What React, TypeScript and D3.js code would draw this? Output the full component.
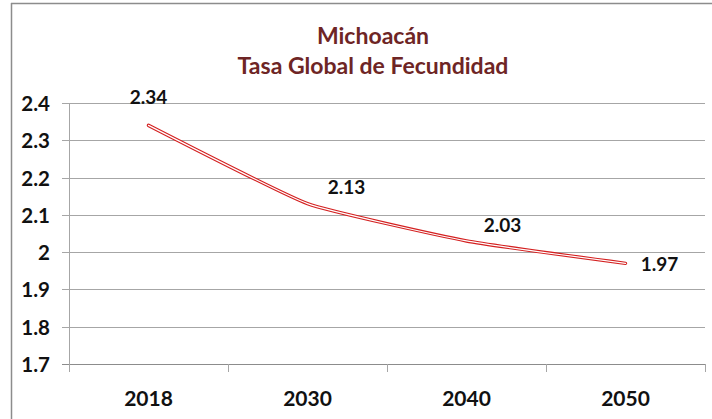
import React from "react";
import * as d3 from "d3";

const years = ["2018", "2030", "2040", "2050"];
const tgf = [2.34, 2.13, 2.03, 1.97];
const yTicks = [1.7, 1.8, 1.9, 2.0, 2.1, 2.2, 2.3, 2.4];
const titleLines = ["Michoacán", "Tasa Global de Fecundidad"];

const W = 712;
const H = 419;
const FONT = "Lato, 'Open Sans', sans-serif";

export default function App() {
  const left = 69, right = 705, top = 103, bottom = 364;
  const x = d3.scaleBand<string>().domain(years).range([left, right]).padding(0);
  const y = d3.scaleLinear().domain([1.7, 2.4]).range([bottom, top]);
  const cx = (i: number) => (x(years[i]) as number) + x.bandwidth() / 2;
  const line = d3
    .line<number>()
    .x((_, i) => cx(i))
    .y((d) => y(d))
    .curve(d3.curveCardinal.tension(0.6));
  const path = line(tgf) as string;

  const labelOffsets = [
    [0, -29],
    [39, -17],
    [36, -16],
    [34, 0],
  ];

  const boundaries = years.map((yr) => x(yr) as number).concat([right]);

  return (
    <svg
      width={W}
      height={H}
      style={{ position: "absolute", left: 0, top: 0, background: "#fff" }}
      fontFamily={FONT}
    >
      <rect x={0} y={0} width={W} height={H} fill="#fff" />
      <line x1={11} y1={3.5} x2={W} y2={3.5} stroke="#8c8c8c" strokeWidth={1.5} />
      <line x1={11.5} y1={3} x2={11.5} y2={H} stroke="#8c8c8c" strokeWidth={1.5} />

      {titleLines.map((t, i) => (
        <text
          key={t}
          x={373}
          y={35 + i * 30}
          textAnchor="middle"
          dominantBaseline="central"
          fontSize={23}
          fontWeight="bold"
          fill="#6e2525"
        >
          {t}
        </text>
      ))}

      {yTicks.map((t) => (
        <g key={t}>
          <line
            x1={left - 7}
            x2={right}
            y1={Math.round(y(t)) + 0.5}
            y2={Math.round(y(t)) + 0.5}
            stroke={t === 1.7 ? "#8c8c8c" : "#a6a6a6"}
            strokeWidth={1}
          />
          <text
            x={50}
            y={y(t)}
            textAnchor="end"
            dominantBaseline="central"
            fontSize={20.5}
            fontWeight="bold"
            fill="#111"
          >
            {d3.format("")(+t.toFixed(1))}
          </text>
        </g>
      ))}

      <line x1={left + 0.5} x2={left + 0.5} y1={top} y2={bottom + 8} stroke="#a6a6a6" />
      {boundaries.map((b, i) => (
        <line
          key={i}
          x1={Math.round(b) + 0.5}
          x2={Math.round(b) + 0.5}
          y1={bottom}
          y2={bottom + 8}
          stroke="#a6a6a6"
        />
      ))}

      {years.map((yr, i) => (
        <text
          key={yr}
          x={cx(i)}
          y={397}
          textAnchor="middle"
          dominantBaseline="central"
          fontSize={21}
          fontWeight="bold"
          fill="#111"
        >
          {yr}
        </text>
      ))}

      <path d={path} fill="none" stroke="#d42020" strokeWidth={3.4} strokeLinecap="round" />
      <path d={path} fill="none" stroke="#fff" strokeWidth={1.2} strokeLinecap="round" />

      {tgf.map((v, i) => (
        <text
          key={i}
          x={cx(i) + labelOffsets[i][0]}
          y={y(v) + labelOffsets[i][1]}
          textAnchor="middle"
          dominantBaseline="central"
          fontSize={19}
          fontWeight="bold"
          fill="#111"
        >
          {v.toFixed(2)}
        </text>
      ))}
    </svg>
  );
}
